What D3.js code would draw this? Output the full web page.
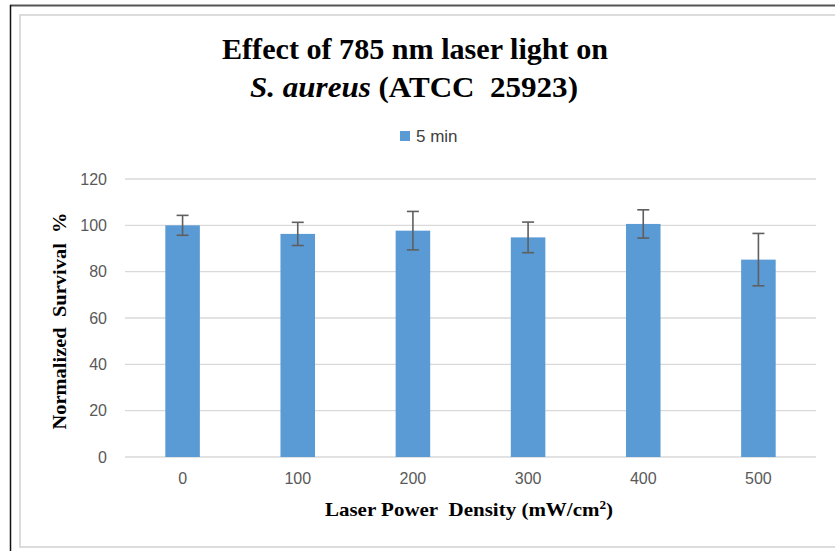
<!DOCTYPE html>
<html>
<head>
<meta charset="utf-8">
<script src="https://cdn.jsdelivr.net/npm/d3@7"></script>
<style>
  body { margin: 0; background: #fff; }
</style>
</head>
<body>
<div id="chart"></div>
<script>
// data
const categories = ['0', '100', '200', '300', '400', '500']
const survival = [100, 96.3, 97.7, 94.8, 100.6, 85.2]
const errors = [4.3, 5.0, 8.3, 6.6, 6.1, 11.3]
const yTicks = [0, 20, 40, 60, 80, 100, 120]
const seriesName = '5 min'

const W = 835, H = 551
const margin = {left: 125, right: 19, top: 179, bottom: 94}
const sans = '"Liberation Sans Narrow", "Liberation Sans", sans-serif'
const serif = '"Liberation Serif", "Times New Roman", serif'

const svg = d3.select('#chart').append('svg')
  .attr('width', W)
  .attr('height', H)

// screenshot frame
svg.append('line').attr('x1', 10).attr('x2', W).attr('y1', 5.5).attr('y2', 5.5)
  .attr('stroke', '#555').attr('stroke-width', 2)
svg.append('line').attr('x1', 10.5).attr('x2', 10.5).attr('y1', 5).attr('y2', H)
  .attr('stroke', '#111').attr('stroke-width', 1.5)
svg.append('rect').attr('x', 20).attr('y', 15).attr('width', W).attr('height', 532)
  .attr('fill', 'none').attr('stroke', '#dcdcdc').attr('stroke-width', 2)

const x = d3.scaleBand()
  .domain(categories)
  .range([margin.left, W - margin.right])
  .paddingInner(0.7)
  .paddingOuter(0.35)

const y = d3.scaleLinear()
  .domain([0, 120])
  .range([H - margin.bottom, margin.top])

// gridlines
svg.append('g')
  .selectAll('line')
  .data(yTicks)
  .enter().append('line')
  .attr('x1', margin.left)
  .attr('x2', W - margin.right)
  .attr('y1', d => y(d))
  .attr('y2', d => y(d))
  .attr('stroke', '#d9d9d9')
  .attr('stroke-width', 1.3)

// y axis labels
const yAxis = svg.append('g')
  .attr('transform', `translate(${margin.left - 18},0)`)
  .call(d3.axisLeft(y).tickValues(yTicks).tickSize(0).tickPadding(0))
yAxis.select('.domain').remove()
yAxis.selectAll('text')
  .attr('font-family', sans)
  .attr('font-size', 16)
  .attr('fill', '#595959')

// x axis labels
const xAxis = svg.append('g')
  .attr('transform', `translate(0,${H - margin.bottom})`)
  .call(d3.axisBottom(x).tickSize(0).tickPadding(16))
xAxis.select('.domain').remove()
xAxis.selectAll('text')
  .attr('font-family', sans)
  .attr('font-size', 16)
  .attr('fill', '#595959')

// bars
svg.append('g')
  .selectAll('rect')
  .data(survival)
  .enter().append('rect')
  .attr('x', (d, i) => x(categories[i]))
  .attr('y', d => y(d))
  .attr('width', x.bandwidth())
  .attr('height', d => y(0) - y(d))
  .attr('fill', '#5b9bd5')

// error bars
const err = svg.append('g')
  .attr('stroke', '#5f5f5f')
  .attr('stroke-width', 1.6)
survival.forEach((v, i) => {
  const cx = x(categories[i]) + x.bandwidth() / 2
  err.append('line').attr('x1', cx).attr('x2', cx)
    .attr('y1', y(v + errors[i])).attr('y2', y(v - errors[i]))
  err.append('line').attr('x1', cx - 6).attr('x2', cx + 6)
    .attr('y1', y(v + errors[i])).attr('y2', y(v + errors[i]))
  err.append('line').attr('x1', cx - 6).attr('x2', cx + 6)
    .attr('y1', y(v - errors[i])).attr('y2', y(v - errors[i]))
})

// title
svg.append('text')
  .attr('x', 415).attr('y', 59)
  .attr('text-anchor', 'middle')
  .attr('font-family', serif)
  .attr('font-weight', 'bold')
  .attr('font-size', 30)
  .attr('textLength', 386)
  .attr('lengthAdjust', 'spacingAndGlyphs')
  .attr('fill', '#000')
  .text('Effect of 785 nm laser light on')

const t2 = svg.append('text')
  .attr('x', 414).attr('y', 97)
  .attr('text-anchor', 'middle')
  .attr('font-family', serif)
  .attr('font-weight', 'bold')
  .attr('font-size', 30)
  .attr('textLength', 328)
  .attr('lengthAdjust', 'spacingAndGlyphs')
  .attr('fill', '#000')
t2.append('tspan').attr('font-style', 'italic').text('S. aureus')
t2.append('tspan').text(' (ATCC\u00a0 25923)')

// legend
svg.append('rect')
  .attr('x', 400).attr('y', 131)
  .attr('width', 10).attr('height', 10)
  .attr('fill', '#5b9bd5')
svg.append('text')
  .attr('x', 416).attr('y', 142)
  .attr('font-family', sans)
  .attr('font-size', 17)
  .attr('fill', '#404040')
  .text(seriesName)

// axis titles
const xt = svg.append('text')
  .attr('x', 469).attr('y', 516)
  .attr('text-anchor', 'middle')
  .attr('font-family', serif)
  .attr('font-weight', 'bold')
  .attr('font-size', 19)
  .attr('textLength', 288)
  .attr('lengthAdjust', 'spacingAndGlyphs')
  .attr('fill', '#000')
xt.append('tspan').text('Laser Power\u00a0 Density (mW/cm')
xt.append('tspan').attr('font-size', 12).attr('dy', -7).text('2')
xt.append('tspan').attr('dy', 7).text(')')

svg.append('text')
  .attr('transform', 'translate(66,321) rotate(-90)')
  .attr('text-anchor', 'middle')
  .attr('font-family', serif)
  .attr('font-weight', 'bold')
  .attr('font-size', 19)
  .attr('textLength', 217)
  .attr('lengthAdjust', 'spacingAndGlyphs')
  .attr('fill', '#000')
  .text('Normalized\u00a0 Survival\u00a0 %')
</script>
</body>
</html>
